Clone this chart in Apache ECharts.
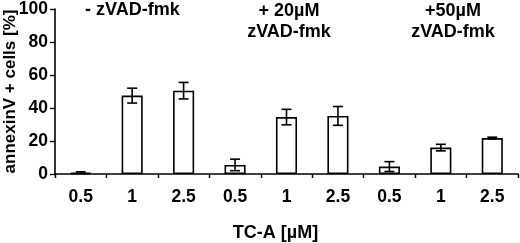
<!DOCTYPE html>
<html>
<head>
<meta charset="utf-8">
<script src="https://cdn.jsdelivr.net/npm/echarts@6/dist/echarts.min.js"></script>
<style>
  html, body { margin: 0; padding: 0; background: #fff; }
  #chart { width: 520px; height: 243px; }
</style>
</head>
<body>
<div id="chart"></div>
<script>
// TC-A concentrations, repeated for each zVAD-fmk condition
const categories = ["0.5", "1", "2.5", "0.5", "1", "2.5", "0.5", "1", "2.5"];
const values = [0.8, 47.5, 50.5, 5.5, 34.5, 35.2, 4.5, 16, 21.8];
const errors = [0.5, 4.5, 5, 3.5, 4.7, 5.7, 3, 2, 0.5];
const groupLabels = ["- zVAD-fmk", "+ 20µM\nzVAD-fmk", "+50µM\nzVAD-fmk"];
const yTicks = [0, 20, 40, 60, 80, 100];

const font = "Liberation Sans, Arial, sans-serif";

const chart = echarts.init(document.getElementById("chart"));

chart.setOption({
  animation: false,
  grid: {
    left: 55,
    right: 2,
    top: 9,
    bottom: 69,
    containLabel: false,
    outerBoundsMode: "none"
  },
  xAxis: {
    type: "category",
    data: categories,
    name: "TC-A [µM]",
    nameLocation: "middle",
    nameGap: 50,
    nameMoveOverlap: false,
    nameTextStyle: { fontFamily: font, fontWeight: "bold", fontSize: 18, color: "#000", verticalAlign: "top", padding: [0, 22, 0, 0] },
    axisLine: { lineStyle: { color: "#000", width: 1.6 } },
    axisTick: { show: true, length: 4, lineStyle: { color: "#000", width: 1.4 } },
    axisLabel: { fontFamily: font, fontWeight: "bold", fontSize: 17.5, color: "#000", margin: 14 }
  },
  yAxis: {
    type: "value",
    min: yTicks[0],
    max: yTicks[yTicks.length - 1],
    interval: 20,
    name: "annexinV + cells [%]",
    nameLocation: "middle",
    nameGap: 36,
    nameMoveOverlap: false,
    nameTextStyle: { fontFamily: font, fontWeight: "bold", fontSize: 17, color: "#000" },
    axisLine: { show: true, lineStyle: { color: "#000", width: 1.6 } },
    axisTick: { show: true, length: 5, lineStyle: { color: "#000", width: 1.4 } },
    splitLine: { show: false },
    axisLabel: { fontFamily: font, fontWeight: "bold", fontSize: 17.5, color: "#000", margin: 7 }
  },
  graphic: [
    { type: "text", x: 85, y: 1, style: { text: groupLabels[0], font: "bold 18px " + font, fill: "#000" } },
    { type: "text", x: 289, y: 1, style: { text: groupLabels[1], font: "bold 18px " + font, fill: "#000", lineHeight: 21, align: "center" } },
    { type: "text", x: 453, y: 1, style: { text: groupLabels[2], font: "bold 18px " + font, fill: "#000", lineHeight: 21, align: "center" } }
  ],
  series: [
    {
      type: "bar",
      data: values,
      barWidth: "41%",
      itemStyle: { color: "#fff", borderColor: "#000", borderWidth: 1.6 }
    },
    {
      type: "custom",
      data: values.map((v, i) => [i, v - errors[i], v + errors[i]]),
      renderItem: function (params, api) {
        const lo = api.coord([api.value(0), api.value(1)]);
        const hi = api.coord([api.value(0), api.value(2)]);
        const cap = 5;
        const style = { stroke: "#000", lineWidth: 1.6 };
        return {
          type: "group",
          children: [
            { type: "line", shape: { x1: hi[0], y1: hi[1], x2: lo[0], y2: lo[1] }, style: style },
            { type: "line", shape: { x1: hi[0] - cap, y1: hi[1], x2: hi[0] + cap, y2: hi[1] }, style: style },
            { type: "line", shape: { x1: lo[0] - cap, y1: lo[1], x2: lo[0] + cap, y2: lo[1] }, style: style }
          ]
        };
      },
      z: 10
    }
  ]
});
</script>
</body>
</html>
